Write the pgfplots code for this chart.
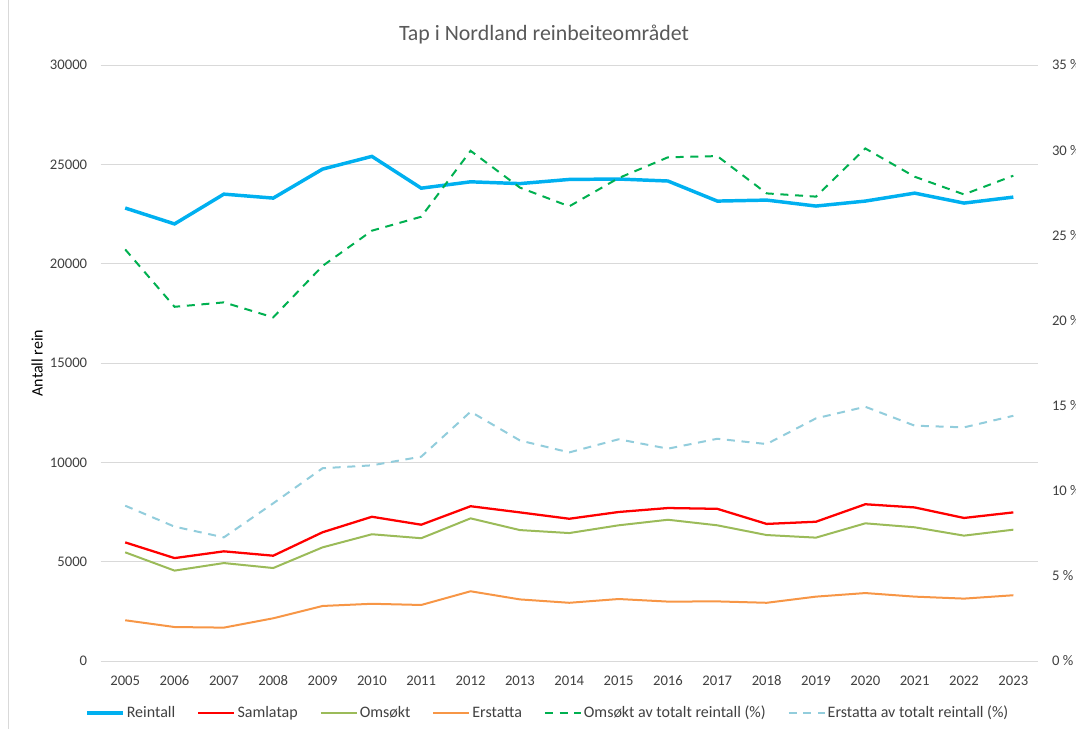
\documentclass[border=0pt]{standalone}
\usepackage{fontspec}
\setmainfont{Carlito}
\usepackage{pgfplots}
\pgfplotsset{compat=1.18}
\usepackage{pgfplotstable}

\definecolor{cRein}{HTML}{00B0F0}
\definecolor{cSamla}{HTML}{FF0000}
\definecolor{cOms}{HTML}{9BBB59}
\definecolor{cErs}{HTML}{F79646}
\definecolor{cPOms}{HTML}{00B050}
\definecolor{cPErs}{HTML}{92CDDC}
\definecolor{gridc}{HTML}{D9D9D9}
\definecolor{txtc}{HTML}{404040}
\definecolor{titc}{HTML}{595959}

\pgfplotstableread{
year rein samla oms ers poms pers
2005 22800 5970 5470 2050 24.17 9.12
2006 22000 5180 4550 1710 20.80 7.89
2007 23500 5520 4930 1680 21.06 7.26
2008 23300 5300 4680 2150 20.18 9.26
2009 24760 6480 5720 2770 23.20 11.32
2010 25400 7260 6380 2880 25.27 11.49
2011 23800 6860 6180 2820 26.09 12.00
2012 24120 7790 7180 3510 29.96 14.64
2013 24030 7480 6590 3100 27.80 12.95
2014 24240 7160 6440 2930 26.70 12.25
2015 24260 7500 6830 3120 28.36 13.02
2016 24160 7700 7110 2990 29.58 12.47
2017 23150 7660 6830 3000 29.65 13.05
2018 23200 6900 6340 2930 27.46 12.74
2019 22900 7010 6210 3240 27.27 14.25
2020 23150 7890 6930 3420 30.10 14.93
2021 23550 7730 6730 3240 28.44 13.82
2022 23050 7200 6310 3140 27.40 13.72
2023 23350 7480 6610 3310 28.50 14.40
}\data

\pgfplotsset{
  common/.style={
    at={(75.4pt,51pt)}, anchor=south west,
    width=703.1pt, height=447pt, scale only axis,
    xmin=2004.5, xmax=2023.5,
    axis line style={draw=none},
    major tick style={draw=none}, minor tick style={draw=none},
    tick label style={font=\fontsize{11}{13}\selectfont, text=txtc},
    scaled y ticks=false,
    clip=false,
  }
}

\begin{document}
\begin{tikzpicture}
\path[use as bounding box] (0pt,0pt) rectangle (807pt,546.75pt);
\draw[gridc, line width=0.75pt] (6pt,0pt) -- (6pt,546.75pt);
\node[text=titc, font=\fontsize{16.4}{19}\selectfont] at (408pt,520.5pt) {Tap i Nordland reinbeiteområdet};

\begin{axis}[common,
  ymin=0, ymax=30000,
  xtick={2005,2006,...,2023},
  xticklabels={2005,2006,2007,2008,2009,2010,2011,2012,2013,2014,2015,2016,2017,2018,2019,2020,2021,2022,2023},
  ytick={0,5000,...,30000},
  yticklabels={0,5000,10000,15000,20000,25000,30000},
  xticklabel style={yshift=-7pt, text height=7.6pt, text depth=0pt},
  yticklabel style={xshift=-6.5pt},
  ymajorgrids, grid style={gridc, line width=0.75pt},
  ylabel={Antall rein},
  ylabel style={at={(axis description cs:-0.0677,0.5)}, anchor=center, font=\fontsize{12}{14}\selectfont, text=black},
]
\addplot[cRein, line width=2.6pt] table[x=year, y=rein] {\data};
\addplot[cSamla, line width=1.7pt] table[x=year, y=samla] {\data};
\addplot[cOms, line width=1.5pt] table[x=year, y=oms] {\data};
\addplot[cErs, line width=1.5pt] table[x=year, y=ers] {\data};
\end{axis}

\begin{axis}[common,
  ymin=0, ymax=35,
  axis x line=none,
  axis y line*=right,
  ytick={0,5,...,35},
  yticklabels={0 \%,5 \%,10 \%,15 \%,20 \%,25 \%,30 \%,35 \%},
  yticklabel style={xshift=7pt},
  legend columns=6,
  legend image code/.code={\draw[#1] (0pt,0pt) -- (27pt,0pt);},
  legend style={at={(axis description cs:-0.0165,-0.0872)}, anchor=west,
    draw=none, fill=none, inner sep=0pt,
    font=\fontsize{12}{14}\selectfont, text=txtc,
    nodes={inner xsep=1.5pt, inner ysep=1pt},
    /tikz/every even column/.append style={column sep=15pt}},
]
\addlegendimage{cRein, line width=2.6pt}\addlegendentry{Reintall}
\addlegendimage{cSamla, line width=1.7pt}\addlegendentry{Samlatap}
\addlegendimage{cOms, line width=1.5pt}\addlegendentry{Omsøkt}
\addlegendimage{cErs, line width=1.5pt}\addlegendentry{Erstatta}
\addplot[cPOms, line width=1.5pt, dash pattern=on 6pt off 5pt] table[x=year, y=poms] {\data};
\addlegendentry{Omsøkt av totalt reintall (\%)}
\addplot[cPErs, line width=1.5pt, dash pattern=on 6pt off 5pt] table[x=year, y=pers] {\data};
\addlegendentry{Erstatta av totalt reintall (\%)}
\end{axis}
\end{tikzpicture}
\end{document}
